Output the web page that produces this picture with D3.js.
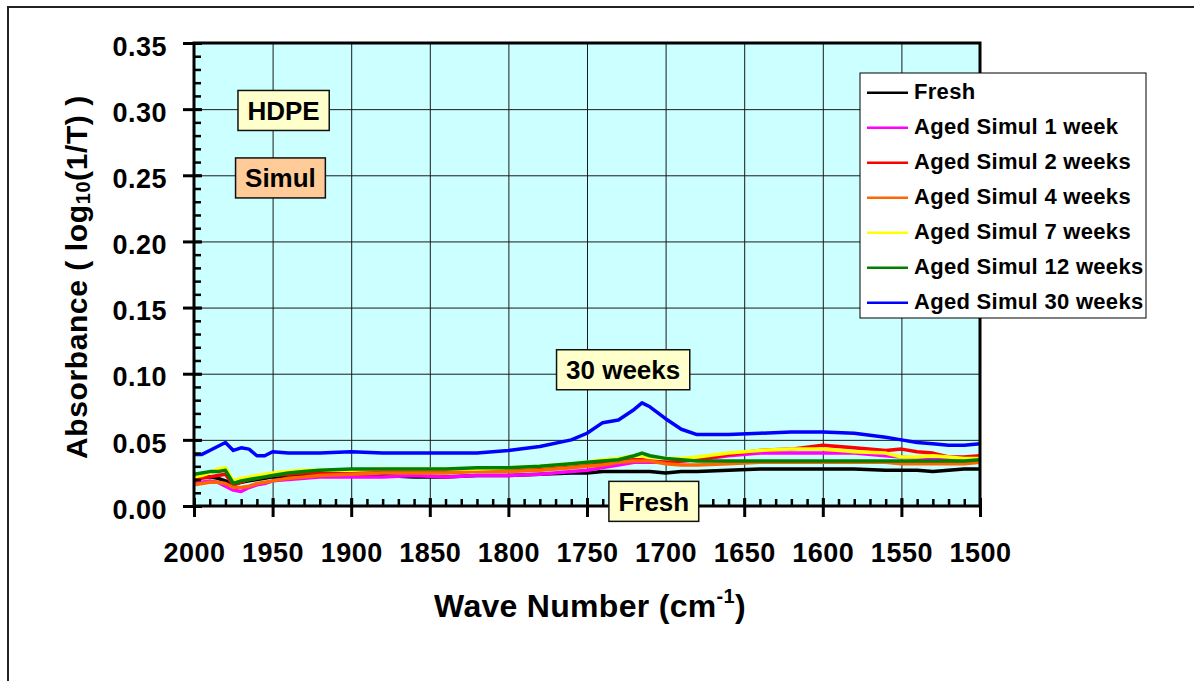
<!DOCTYPE html>
<html>
<head>
<meta charset="utf-8">
<script src="https://cdn.jsdelivr.net/npm/d3@7"></script>
<style>
  body { margin: 0; background: #fff; }
  svg { display: block; font-family: Arial, "Liberation Sans", sans-serif; }
</style>
</head>
<body>
<svg id="chart"></svg>
<script>
// wave numbers (cm-1) shared by all spectra
const waveNumbers = [2000, 1995, 1990, 1985, 1980, 1975, 1970, 1965, 1960, 1955, 1950, 1940, 1930, 1920, 1900,
  1880, 1860, 1840, 1820, 1800, 1780, 1760, 1750, 1740, 1730, 1720, 1715, 1710, 1700, 1690, 1680,
  1660, 1640, 1620, 1600, 1580, 1560, 1550, 1540, 1530, 1520, 1510, 1500];

const fresh = [0.021, 0.022, 0.022, 0.021, 0.019, 0.016, 0.018, 0.019, 0.020, 0.021, 0.022, 0.022, 0.023, 0.023, 0.023,
  0.023, 0.022, 0.022, 0.023, 0.023, 0.024, 0.025, 0.025, 0.026, 0.026, 0.026, 0.026, 0.026, 0.025, 0.026, 0.026,
  0.027, 0.028, 0.028, 0.028, 0.028, 0.027, 0.027, 0.027, 0.026, 0.027, 0.028, 0.028];
const week1 = [0.017, 0.018, 0.019, 0.018, 0.015, 0.012, 0.011, 0.014, 0.016, 0.017, 0.019, 0.020, 0.021, 0.022, 0.022,
  0.022, 0.023, 0.022, 0.023, 0.023, 0.024, 0.026, 0.027, 0.029, 0.031, 0.033, 0.033, 0.033, 0.033, 0.034, 0.035,
  0.038, 0.040, 0.040, 0.040, 0.040, 0.038, 0.037, 0.036, 0.035, 0.035, 0.035, 0.035];
const week2 = [0.019, 0.021, 0.022, 0.023, 0.024, 0.016, 0.018, 0.020, 0.021, 0.022, 0.023, 0.024, 0.025, 0.025, 0.026,
  0.026, 0.026, 0.026, 0.027, 0.027, 0.028, 0.030, 0.031, 0.033, 0.034, 0.035, 0.035, 0.034, 0.033, 0.034, 0.035,
  0.039, 0.042, 0.043, 0.046, 0.044, 0.042, 0.043, 0.041, 0.040, 0.037, 0.037, 0.038];
const week4 = [0.016, 0.017, 0.018, 0.018, 0.017, 0.014, 0.014, 0.015, 0.017, 0.018, 0.019, 0.021, 0.022, 0.023, 0.024,
  0.025, 0.025, 0.025, 0.026, 0.026, 0.027, 0.029, 0.030, 0.031, 0.033, 0.034, 0.034, 0.034, 0.032, 0.031, 0.031,
  0.032, 0.033, 0.033, 0.033, 0.033, 0.033, 0.032, 0.032, 0.032, 0.032, 0.032, 0.033];
const week7 = [0.022, 0.023, 0.025, 0.028, 0.029, 0.019, 0.021, 0.022, 0.023, 0.024, 0.025, 0.026, 0.027, 0.027, 0.027,
  0.028, 0.028, 0.028, 0.028, 0.029, 0.030, 0.032, 0.033, 0.035, 0.036, 0.038, 0.038, 0.037, 0.036, 0.036, 0.037,
  0.040, 0.042, 0.043, 0.043, 0.041, 0.040, 0.037, 0.037, 0.038, 0.037, 0.036, 0.036];
const week12 = [0.024, 0.025, 0.026, 0.026, 0.027, 0.017, 0.019, 0.020, 0.021, 0.022, 0.023, 0.025, 0.026, 0.027, 0.028,
  0.028, 0.028, 0.028, 0.029, 0.029, 0.030, 0.032, 0.033, 0.034, 0.035, 0.038, 0.040, 0.038, 0.036, 0.035, 0.034,
  0.034, 0.034, 0.034, 0.034, 0.034, 0.034, 0.034, 0.034, 0.034, 0.034, 0.034, 0.035];
const week30 = [0.039, 0.039, 0.042, 0.045, 0.048, 0.042, 0.044, 0.043, 0.038, 0.038, 0.041, 0.040, 0.040, 0.040, 0.041,
  0.040, 0.040, 0.040, 0.040, 0.042, 0.045, 0.050, 0.055, 0.063, 0.065, 0.073, 0.078, 0.075, 0.066, 0.058, 0.054,
  0.054, 0.055, 0.056, 0.056, 0.055, 0.052, 0.050, 0.048, 0.047, 0.046, 0.046, 0.047];

const seriesNames = ["Fresh", "Aged Simul 1 week", "Aged Simul 2 weeks", "Aged Simul 4 weeks",
  "Aged Simul 7 weeks", "Aged Simul 12 weeks", "Aged Simul 30 weeks"];
const seriesValues = [fresh, week1, week2, week4, week7, week12, week30];
const seriesColors = ["#000000", "#FF00FF", "#FF0000", "#FF6600", "#FFFF00", "#008000", "#0000FF"];

const xTicks = [2000, 1950, 1900, 1850, 1800, 1750, 1700, 1650, 1600, 1550, 1500];
const yTicks = [0, 0.05, 0.10, 0.15, 0.20, 0.25, 0.30, 0.35];

// text boxes in data coordinates (wave number, absorbance)
const noteTexts = ["HDPE", "Simul", "30 weeks", "Fresh"];
const noteWave = [1943, 1945, 1727, 1707.5];
const noteValue = [0.299, 0.248, 0.103, 0.0035];
const noteFills = ["#FFFFCC", "#FFCC99", "#FFFFCC", "#FFFFCC"];

const svg_width = 1194, svg_height = 681;
const margin = {top: 43, left: 194},
      width = 786,
      height = 463;

const svg = d3.select("#chart")
  .attr("width", svg_width)
  .attr("height", svg_height);

// outer frame (left + top only visible)
svg.append("path")
  .attr("d", `M8,${svg_height} V7 H${svg_width}`)
  .attr("fill", "none")
  .attr("stroke", "#222")
  .attr("stroke-width", 2);

const chart = svg.append("g")
  .attr("transform", `translate(${margin.left},${margin.top})`);

const xScale = d3.scaleLinear().domain([2000, 1500]).range([0, width]);
const yScale = d3.scaleLinear().domain([0, 0.35]).range([height, 0]);

// plot background
chart.append("rect")
  .attr("width", width)
  .attr("height", height)
  .attr("fill", "#CCFFFF");

// grid lines
chart.append("g")
  .attr("transform", `translate(0,${height})`)
  .call(d3.axisBottom(xScale).tickValues(xTicks).tickSize(-height).tickFormat(""))
  .call(g => g.select(".domain").remove())
  .selectAll("line").attr("stroke", "#1a1a1a").attr("stroke-width", 1);
chart.append("g")
  .call(d3.axisLeft(yScale).tickValues(yTicks).tickSize(-width).tickFormat(""))
  .call(g => g.select(".domain").remove())
  .selectAll("line").attr("stroke", "#1a1a1a").attr("stroke-width", 1);

// spectra
const line = d3.line()
  .x((d, i) => xScale(waveNumbers[i]))
  .y(d => yScale(d));

chart.append("g")
  .selectAll("path")
  .data(seriesValues)
  .enter()
  .append("path")
    .attr("d", d => line(d))
    .attr("fill", "none")
    .attr("stroke", (d, i) => seriesColors[i])
    .attr("stroke-width", 3.5)
    .attr("stroke-linejoin", "round");

// minor ticks (inside)
const minorX = d3.range(2000, 1499, -10);
const minorY = d3.range(0, 0.3501, 0.01);
chart.append("g")
  .attr("transform", `translate(0,${height})`)
  .call(d3.axisBottom(xScale).tickValues(minorX).tickSize(-7).tickFormat(""))
  .call(g => g.select(".domain").remove())
  .selectAll("line").attr("stroke", "#000").attr("stroke-width", 2.5);
chart.append("g")
  .call(d3.axisLeft(yScale).tickValues(minorY).tickSize(-7).tickFormat(""))
  .call(g => g.select(".domain").remove())
  .selectAll("line").attr("stroke", "#000").attr("stroke-width", 2.5);

// plot frame
chart.append("rect")
  .attr("width", width)
  .attr("height", height)
  .attr("fill", "none")
  .attr("stroke", "#000")
  .attr("stroke-width", 3);

// major ticks + labels
const xAxisG = chart.append("g")
  .attr("transform", `translate(0,${height})`)
  .call(d3.axisBottom(xScale).tickValues(xTicks).tickSize(11).tickFormat(d3.format("d")))
  .call(g => g.select(".domain").remove());
xAxisG.selectAll("line").attr("y1", -8).attr("stroke", "#000").attr("stroke-width", 3);
xAxisG.selectAll("text")
  .attr("y", 56).attr("dy", null)
  .attr("fill", "#000")
  .style("font-size", "27px").style("font-weight", "bold").style("letter-spacing", "0.5px")
  .style("font-family", "Arial, 'Liberation Sans', sans-serif");

const yAxisG = chart.append("g")
  .call(d3.axisLeft(yScale).tickValues(yTicks).tickSize(11).tickPadding(16).tickFormat(d3.format(".2f")))
  .call(g => g.select(".domain").remove());
yAxisG.selectAll("line").attr("x1", 8).attr("stroke", "#000").attr("stroke-width", 3);
yAxisG.selectAll("text")
  .attr("dy", "0.45em")
  .attr("fill", "#000")
  .style("font-size", "27px").style("font-weight", "bold").style("letter-spacing", "0.5px")
  .style("font-family", "Arial, 'Liberation Sans', sans-serif");

// axis titles
const xTitle = svg.append("text")
  .attr("x", 590)
  .attr("y", 617)
  .attr("text-anchor", "middle")
  .style("font-size", "32px").style("font-weight", "bold").style("letter-spacing", "0.3px");
xTitle.append("tspan").text("Wave Number (cm");
xTitle.append("tspan").text("-1").style("font-size", "20px").attr("dy", -14);
xTitle.append("tspan").text(")").attr("dy", 14);

const yTitle = svg.append("text")
  .attr("transform", `translate(87,277) rotate(-90)`)
  .attr("text-anchor", "middle")
  .style("font-size", "30px").style("font-weight", "bold").style("letter-spacing", "0.6px");
yTitle.append("tspan").text("Absorbance ( log");
yTitle.append("tspan").text("10").style("font-size", "20px").attr("dy", 3);
yTitle.append("tspan").text("(1/T) )").attr("dy", -3);

// text boxes
noteTexts.forEach((t, i) => {
  const cx = xScale(noteWave[i]), cy = yScale(noteValue[i]);
  const g = chart.append("g");
  const rect = g.append("rect");
  const txt = g.append("text")
    .attr("x", cx)
    .attr("y", cy + 9.5)
    .attr("text-anchor", "middle")
    .style("font-size", "26px").style("font-weight", "bold")
    .text(t);
  const w = txt.node().getComputedTextLength() + 19;
  rect.attr("x", cx - w / 2).attr("y", cy - 20)
    .attr("width", w).attr("height", 40)
    .attr("fill", noteFills[i])
    .attr("stroke", "#111").attr("stroke-width", 1.5);
});

// legend
const legend = svg.append("g").attr("transform", "translate(860,73)");
legend.append("rect")
  .attr("width", 286).attr("height", 245)
  .attr("fill", "#fff").attr("stroke", "#000").attr("stroke-width", 1);
const rows = legend.selectAll("g.row")
  .data(seriesNames)
  .enter()
  .append("g")
    .attr("class", "row")
    .attr("transform", (d, i) => `translate(0,${19.7 + i * 35})`);
rows.append("line")
  .attr("x1", 7).attr("x2", 48)
  .attr("stroke", (d, i) => seriesColors[i])
  .attr("stroke-width", 2.5);
rows.append("text")
  .attr("x", 54).attr("y", 6)
  .style("font-size", "22px").style("font-weight", "bold").style("letter-spacing", "0.3px")
  .text(d => d);
</script>
</body>
</html>
